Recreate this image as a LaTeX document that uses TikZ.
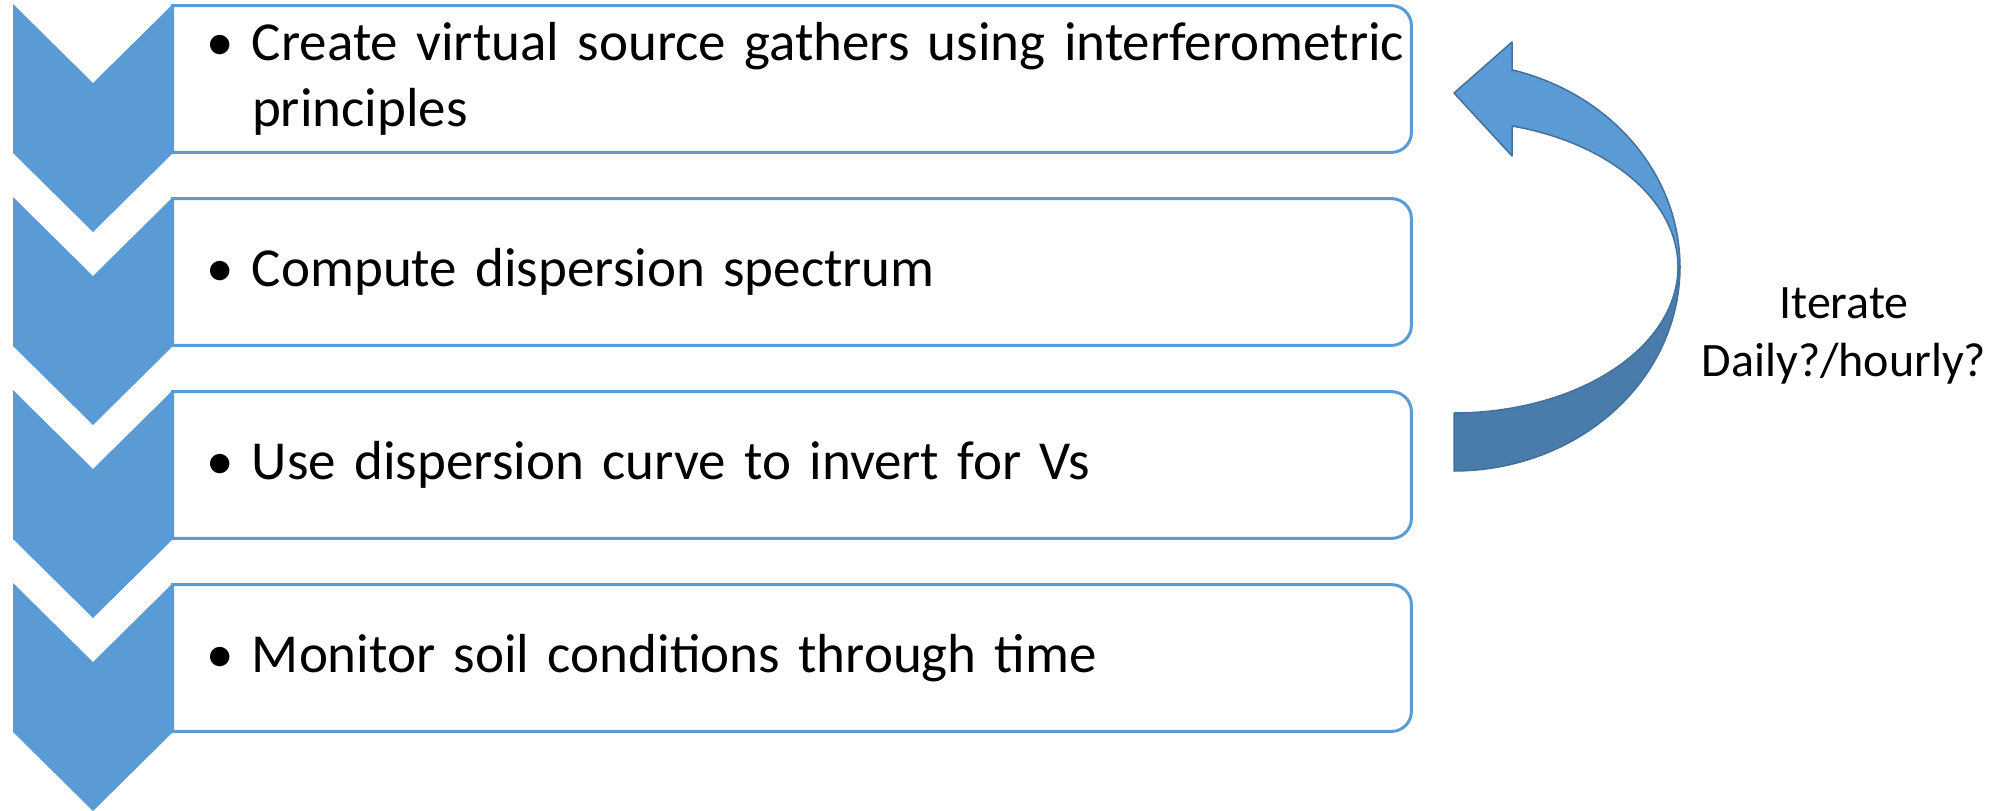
\documentclass[tikz,border=0pt]{standalone}
\usepackage{fontspec}
\setmainfont{Carlito}
\definecolor{chevblue}{HTML}{5B9BD5}
\definecolor{loopdark}{HTML}{497CAA}
\definecolor{loopline}{HTML}{41719C}
\newcommand{\stepbullet}{\hspace*{16.5pt}\makebox[23pt][l]{\textbullet}}

\begin{document}
\begin{tikzpicture}[x=0.5pt, y=-0.5pt,
    stepbox/.style={minimum width=619pt, minimum height=73pt, inner sep=0pt, text width=619pt, align=left, font=\fontsize{27.5}{33}\selectfont},
    boxline/.style={draw=chevblue, line width=1.5pt},
    chevron/.style={fill=chevblue},
    loopfront/.style={fill=chevblue, draw=loopline, line width=0.75pt, line join=round},
    loopback/.style={fill=loopdark, draw=loopline, line width=0.75pt, line join=round}]
    \useasboundingbox (0,0) rectangle (2005,810);

    \node[stepbox] (s1) at (792,79) {\mbox{\stepbullet Create virtual source gathers using interferometric}\\\hspace*{39.5pt}principles};
    \node[stepbox] (s2) at (792,272) {\stepbullet Compute dispersion spectrum};
    \node[stepbox] (s3) at (792,465) {\stepbullet Use dispersion curve to invert for Vs};
    \node[stepbox] (s4) at (792,658) {\stepbullet Monitor soil conditions through time};

    \foreach \i in {1,...,4}
        \draw[boxline] (s\i.south west) -- (s\i.north west) -- ([xshift=-10pt]s\i.north east)
            arc[start angle=90, end angle=0, radius=10pt] -- ([yshift=10pt]s\i.south east)
            arc[start angle=0, end angle=-90, radius=10pt] -- cycle;

    \foreach \i in {0,...,3}
        \fill[chevron, shift={(0,{193*\i})}] (13,4) -- (93,83) -- (173,4) -- (173,153) -- (93,232) -- (13,153) -- cycle;

    % loop arrow back to the first step
    \filldraw[loopback] plot[domain=0:90, samples=40] ({1454+226*cos(\x)}, {267+204*sin(\x)})
        -- plot[domain=90:0, samples=40] ({1454+224*cos(\x)}, {267+146*sin(\x)}) -- cycle;
    \filldraw[loopfront] (1512,128) -- (1512,156) -- (1454,93) -- (1512,42) -- (1512,70)
        -- plot[domain=-75.1:0, samples=40] ({1454+226*cos(\x)}, {267+204*sin(\x)})
        -- plot[domain=0:-75, samples=40] ({1454+224*cos(\x)}, {267+146*sin(\x)}) -- cycle;

    \node[font=\fontsize{24}{29}\selectfont, align=center] (iter) at (1844,336) {Iterate\\Daily?/hourly?};
\end{tikzpicture}
\end{document}
